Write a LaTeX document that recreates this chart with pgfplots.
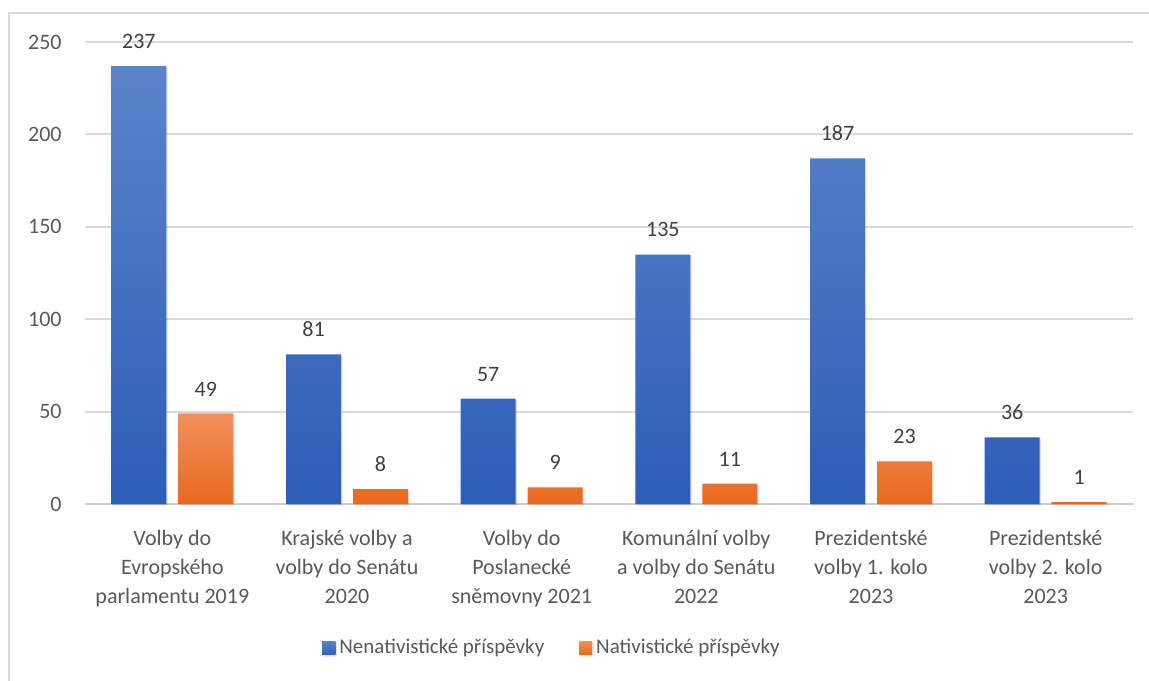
\documentclass[border=0pt]{standalone}
\usepackage{fontspec}
\setmainfont{Carlito}
\usepackage{pgfplots}
\pgfplotsset{compat=1.18}
\usetikzlibrary{shadows}
\definecolor{gridc}{HTML}{D9D9D9}
\definecolor{axisc}{HTML}{CCCCCC}
\definecolor{txt}{HTML}{595959}
\definecolor{lab}{HTML}{404040}
\definecolor{blueT}{HTML}{5B84C9}
\definecolor{blueB}{HTML}{2E5DB8}
\definecolor{oraT}{HTML}{F1905C}
\definecolor{oraB}{HTML}{E8691C}
\begin{document}
\begin{tikzpicture}
\useasboundingbox (0,0) rectangle (574.5pt,340pt);
% chart frame
\draw[gridc, line width=1pt] (4.5pt,-2pt) -- (4.5pt,333.25pt) -- (580pt,333.25pt);
\begin{axis}[
    at={(42.5pt,88pt)}, anchor=south west,
    scale only axis, width=524pt, height=231pt,
    xmin=-0.5, xmax=5.5, ymin=0, ymax=250,
    clip=false,
    axis line style={draw=none},
    ybar=6pt, bar width=27.5pt,
    ytick={0,50,...,250},
    ymajorgrids,
    grid style={gridc, line width=1pt},
    major tick length=0pt,
    /pgf/number format/assume math mode=true,
    ticklabel style={font=\fontsize{11}{14.5}\selectfont, text=txt},
    yticklabel style={anchor=east, inner sep=0pt, xshift=-11.5pt},
    xtick={0,...,5},
    xticklabels={{Volby do\\Evropského\\parlamentu 2019},
                 {Krajské volby a\\volby do Senátu\\2020},
                 {Volby do\\Poslanecké\\sněmovny 2021},
                 {Komunální volby\\a volby do Senátu\\2022},
                 {Prezidentské\\volby 1. kolo\\2023},
                 {Prezidentské\\volby 2. kolo\\2023}},
    xticklabel style={align=center, anchor=north, inner sep=0pt, yshift=-13pt},
    nodes near coords,
    every node near coord/.append style={font=\fontsize{11}{12}\selectfont, text=lab, inner sep=0pt, anchor=south, yshift=8.5pt},
    legend columns=2,
    legend style={draw=none, fill=none, at={(rel axis cs:0,0)}, anchor=west,
        xshift=115.5pt, yshift=-72pt, font=\fontsize{10.5}{12}\selectfont, text=txt,
        /tikz/every even column/.append style={column sep=15.5pt}},
    legend image code/.code={\fill[#1] (0pt,-3.4pt) rectangle (6.5pt,3.4pt);},
]
\draw[axisc, line width=1pt] (rel axis cs:0,0) -- (rel axis cs:1,0);
\addplot[draw=none, top color=blueT, bottom color=blueB,
    drop shadow={shadow xshift=0.7pt, shadow yshift=-0.7pt, opacity=0.12}]
    coordinates {(0,237) (1,81) (2,57) (3,135) (4,187) (5,36)};
\addplot[draw=none, top color=oraT, bottom color=oraB,
    drop shadow={shadow xshift=0.7pt, shadow yshift=-0.7pt, opacity=0.12}]
    coordinates {(0,49) (1,8) (2,9) (3,11) (4,23) (5,1)};
\legend{Nenativistické příspěvky, Nativistické příspěvky}
\end{axis}
\end{tikzpicture}
\end{document}
